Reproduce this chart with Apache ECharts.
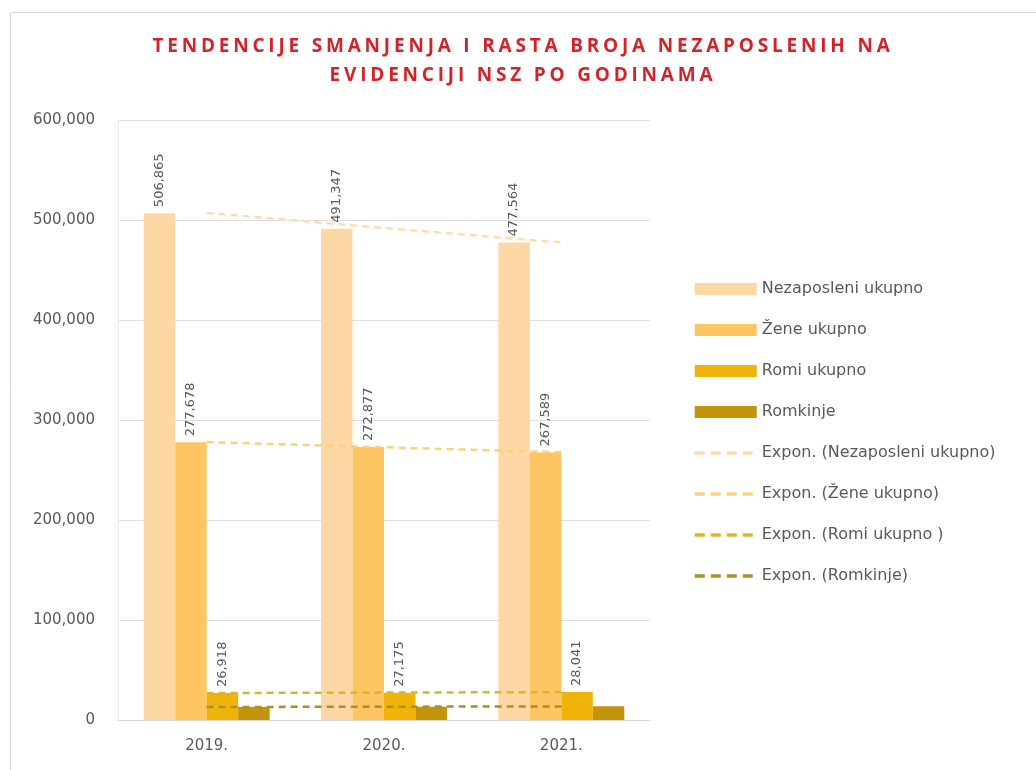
<!DOCTYPE html>
<html>
<head>
<meta charset="utf-8">
<title>Tendencije smanjenja i rasta broja nezaposlenih</title>
<script src="https://cdn.jsdelivr.net/npm/echarts@6/dist/echarts.min.js"></script>
<style>
  html, body { margin: 0; padding: 0; background: #fff; }
  #wrap { position: relative; width: 1036px; height: 770px; }
  #chart { position: absolute; left: 0; top: 0; width: 1036px; height: 770px; }
  #title {
    position: absolute; left: 0; width: 1046px; top: 31px;
    text-align: center; color: #d2232a;
    font-family: 'Open Sans', sans-serif; font-weight: bold;
    font-size: 19px; letter-spacing: 3.8px; line-height: 29px;
  }
</style>
</head>
<body>
<div id="wrap">
  <div id="chart"></div>
  <div id="title">TENDENCIJE SMANJENJA I RASTA BROJA NEZAPOSLENIH NA<br>EVIDENCIJI NSZ PO GODINAMA</div>
</div>
<script>
// Data
var years = ['2019.', '2020.', '2021.'];
var nezaposleni = [506865, 491347, 477564];
var zene = [277678, 272877, 267589];
var romi = [26918, 27175, 28041];
var romkinje = [13100, 13300, 13700];

// Trend lines
var trendNezaposleni = [507000, 492000, 477500];
var trendZene = [277900, 272700, 267700];
var trendRomi = [27000, 27400, 27900];
var trendRomkinje = [13000, 13300, 13600];

var yTicks = [0, 100000, 200000, 300000, 400000, 500000, 600000];

var colors = ['#fdd8a4', '#fec563', '#f0b408', '#c3940a'];
var trendColors = ['#fddcae', '#f9d27c', '#d8b52a', '#a8912a'];

var fontFamily = "'DejaVu Sans', 'Noto Sans', sans-serif";
var gray = '#595959';

var barLabel = {
    show: true,
    position: 'top',
    rotate: 90,
    align: 'left',
    verticalAlign: 'middle',
    distance: 6,
    color: gray,
    fontSize: 13,
    fontFamily: fontFamily,
    formatter: function (p) { return p.value.toLocaleString('en-US'); }
};

function barSeries(name, data, color, withLabel) {
    return {
        name: name,
        type: 'bar',
        data: data,
        barGap: 0,
        barCategoryGap: '29%',
        itemStyle: { color: color },
        label: withLabel ? barLabel : { show: false },
        z: 2
    };
}

function trendSeries(name, data, color) {
    return {
        name: name,
        type: 'line',
        data: data,
        symbol: 'none',
        showSymbol: false,
        silent: true,
        lineStyle: { color: color, width: 2.5, type: [7, 5] },
        itemStyle: { color: color },
        z: 3
    };
}

// legend entry for a trend line: dashed line only, no symbol
function trendLegend(name) {
    return { name: name, itemStyle: { opacity: 0 }, lineStyle: { width: 3.5, type: [10, 6] } };
}

var chart = echarts.init(document.getElementById('chart'));

chart.setOption({
    animation: false,
    textStyle: { fontFamily: fontFamily },
    graphic: [{
        type: 'rect',
        shape: { x: 10.5, y: 12.5, width: 1040, height: 780 },
        style: { fill: 'none', stroke: '#d9d9d9', lineWidth: 1 },
        silent: true
    }],
    grid: {
        left: 118,
        right: 386,
        top: 120,
        bottom: 50,
        containLabel: false
    },
    legend: {
        orient: 'vertical',
        left: 688,
        top: 276,
        itemWidth: 62,
        itemHeight: 12,
        itemGap: 25,
        textStyle: { color: gray, fontSize: 16, fontFamily: fontFamily },
        data: [
            { name: 'Nezaposleni ukupno', icon: 'rect' },
            { name: 'Žene ukupno', icon: 'rect' },
            { name: 'Romi ukupno', icon: 'rect' },
            { name: 'Romkinje', icon: 'rect' },
            trendLegend('Expon. (Nezaposleni ukupno)'),
            trendLegend('Expon. (Žene ukupno)'),
            trendLegend('Expon. (Romi ukupno )'),
            trendLegend('Expon. (Romkinje)')
        ]
    },
    xAxis: {
        type: 'category',
        data: years,
        axisTick: { show: false },
        axisLine: { lineStyle: { color: '#d9d9d9', width: 1 } },
        axisLabel: { color: gray, fontSize: 15, margin: 19, fontFamily: fontFamily }
    },
    yAxis: {
        type: 'value',
        min: yTicks[0],
        max: yTicks[yTicks.length - 1],
        interval: 100000,
        axisLine: { show: true, lineStyle: { color: '#ececec' } },
        axisTick: { show: false },
        splitLine: { lineStyle: { color: '#dedede' } },
        axisLabel: {
            color: gray,
            fontSize: 15,
            margin: 23,
            fontFamily: fontFamily,
            formatter: function (v) { return v.toLocaleString('en-US'); }
        }
    },
    series: [
        barSeries('Nezaposleni ukupno', nezaposleni, colors[0], true),
        barSeries('Žene ukupno', zene, colors[1], true),
        barSeries('Romi ukupno', romi, colors[2], true),
        barSeries('Romkinje', romkinje, colors[3], false),
        trendSeries('Expon. (Nezaposleni ukupno)', trendNezaposleni, trendColors[0]),
        trendSeries('Expon. (Žene ukupno)', trendZene, trendColors[1]),
        trendSeries('Expon. (Romi ukupno )', trendRomi, trendColors[2]),
        trendSeries('Expon. (Romkinje)', trendRomkinje, trendColors[3])
    ]
});
</script>
</body>
</html>
